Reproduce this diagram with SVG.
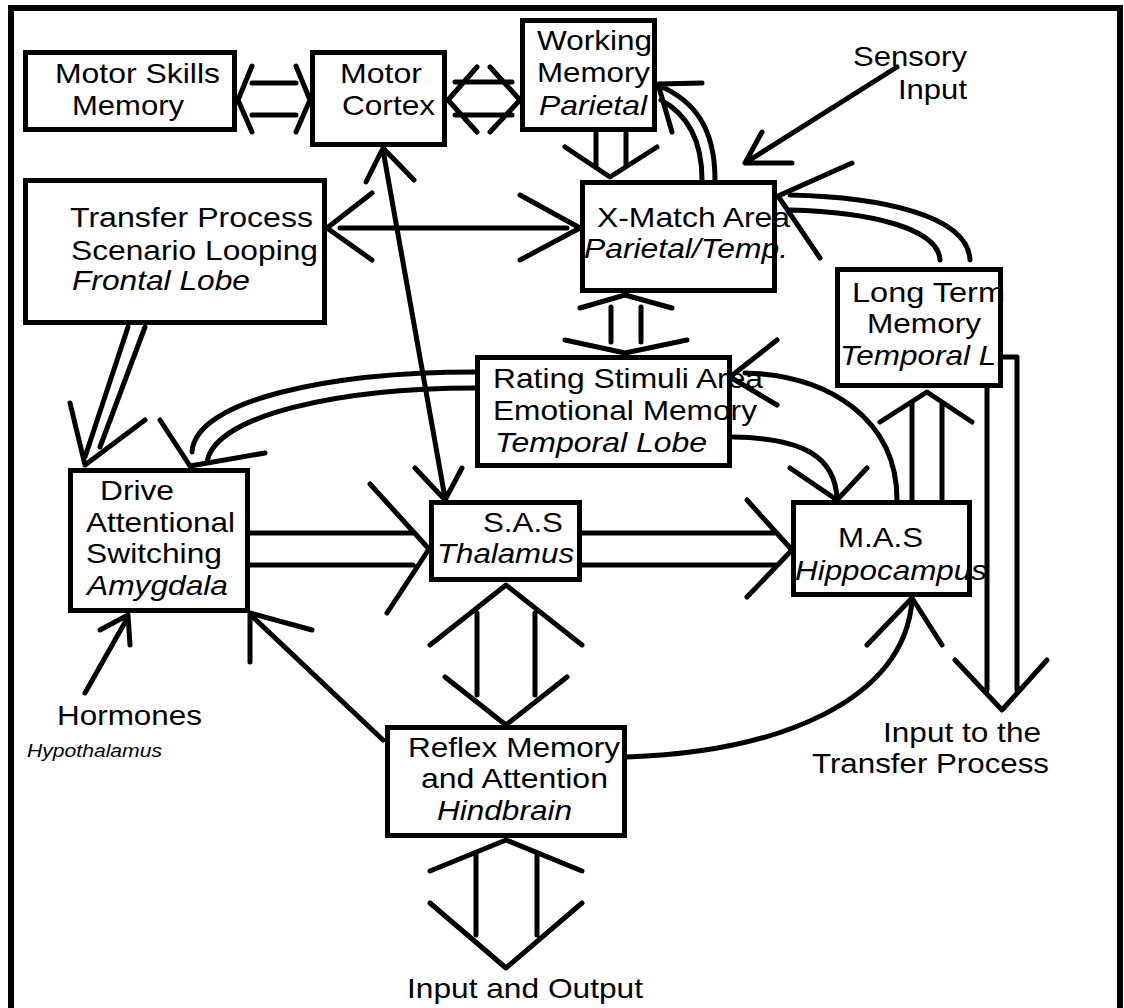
<svg xmlns="http://www.w3.org/2000/svg" width="1124" height="1008" viewBox="0 0 1124 1008">
<style>
.box{fill:#fff;stroke:#000;stroke-width:5}
.c{fill:none;stroke:#000;stroke-width:5;stroke-linecap:round;stroke-linejoin:round}
.t{font-family:"Liberation Sans",Arial,sans-serif;font-size:28px;fill:#000}
.i{font-style:italic}
.s{font-size:18px}
</style>
<rect width="1124" height="1008" fill="#fff"/>
<g id="frame"><path d="M11,1008 V8 H1120 V1008" fill="none" stroke="#000" stroke-width="6"/></g>
<g id="nodes">
<g id="motor-skills"><rect class="box" x="25.5" y="52.5" width="209" height="77"/><text class="t" x="55" y="83" textLength="165" lengthAdjust="spacingAndGlyphs">Motor Skills</text><text class="t" x="72" y="115" textLength="112" lengthAdjust="spacingAndGlyphs">Memory</text></g>
<g id="motor-cortex"><rect class="box" x="312.5" y="52.5" width="132" height="92"/><text class="t" x="340" y="83" textLength="82" lengthAdjust="spacingAndGlyphs">Motor</text><text class="t" x="342" y="115" textLength="93" lengthAdjust="spacingAndGlyphs">Cortex</text></g>
<g id="working-memory"><rect class="box" x="522.5" y="20.5" width="132" height="109"/><text class="t" x="537" y="50" textLength="115" lengthAdjust="spacingAndGlyphs">Working</text><text class="t" x="537" y="82" textLength="113" lengthAdjust="spacingAndGlyphs">Memory</text><text class="t i" x="539" y="115" textLength="108" lengthAdjust="spacingAndGlyphs">Parietal</text></g>
<g id="x-match"><rect class="box" x="582.5" y="182.5" width="192" height="108"/><text class="t" x="597" y="227" textLength="193" lengthAdjust="spacingAndGlyphs">X-Match Area</text><text class="t i" x="584" y="258" textLength="204" lengthAdjust="spacingAndGlyphs">Parietal/Temp.</text></g>
<g id="transfer"><rect class="box" x="25.5" y="180.5" width="299" height="142"/><text class="t" x="70" y="227" textLength="243" lengthAdjust="spacingAndGlyphs">Transfer Process</text><text class="t" x="71" y="260" textLength="247" lengthAdjust="spacingAndGlyphs">Scenario Looping</text><text class="t i" x="72" y="290" textLength="178" lengthAdjust="spacingAndGlyphs">Frontal Lobe</text></g>
<g id="rating"><rect class="box" x="477.5" y="357.5" width="252" height="108"/><text class="t" x="493" y="388" textLength="270" lengthAdjust="spacingAndGlyphs">Rating Stimuli Area</text><text class="t" x="493" y="420" textLength="264" lengthAdjust="spacingAndGlyphs">Emotional Memory</text><text class="t i" x="495" y="452" textLength="212" lengthAdjust="spacingAndGlyphs">Temporal Lobe</text></g>
<g id="long-term"><rect class="box" x="837.5" y="269.5" width="163" height="116"/><text class="t" x="852" y="302" textLength="153" lengthAdjust="spacingAndGlyphs">Long Term</text><text class="t" x="867" y="333" textLength="114" lengthAdjust="spacingAndGlyphs">Memory</text><text class="t i" x="840" y="365" textLength="165" lengthAdjust="spacingAndGlyphs">Temporal L.</text></g>
<g id="drive"><rect class="box" x="70.5" y="470.5" width="177" height="140"/><text class="t" x="100" y="500" textLength="74" lengthAdjust="spacingAndGlyphs">Drive</text><text class="t" x="86" y="532" textLength="149" lengthAdjust="spacingAndGlyphs">Attentional</text><text class="t" x="86" y="563" textLength="136" lengthAdjust="spacingAndGlyphs">Switching</text><text class="t i" x="87" y="595" textLength="141" lengthAdjust="spacingAndGlyphs">Amygdala</text></g>
<g id="sas"><rect class="box" x="431.5" y="502.5" width="148" height="77"/><text class="t" x="483" y="532" textLength="80" lengthAdjust="spacingAndGlyphs">S.A.S</text><text class="t i" x="437" y="563" textLength="137" lengthAdjust="spacingAndGlyphs">Thalamus</text></g>
<g id="mas"><rect class="box" x="793.5" y="502.5" width="176" height="92"/><text class="t" x="838" y="547" textLength="85" lengthAdjust="spacingAndGlyphs">M.A.S</text><text class="t i" x="795" y="580" textLength="192" lengthAdjust="spacingAndGlyphs">Hippocampus</text></g>
<g id="reflex"><rect class="box" x="387.5" y="727.5" width="237" height="108"/><text class="t" x="408" y="757" textLength="212" lengthAdjust="spacingAndGlyphs">Reflex Memory</text><text class="t" x="421" y="788" textLength="187" lengthAdjust="spacingAndGlyphs">and Attention</text><text class="t i" x="437" y="820" textLength="135" lengthAdjust="spacingAndGlyphs">Hindbrain</text></g>
<g id="sensory"><text class="t" x="853" y="66" textLength="114" lengthAdjust="spacingAndGlyphs">Sensory</text><text class="t" x="898" y="99" textLength="69" lengthAdjust="spacingAndGlyphs">Input</text></g>
<g id="hormones"><text class="t" x="57" y="725" textLength="145" lengthAdjust="spacingAndGlyphs">Hormones</text><text class="t i s" x="27" y="757" textLength="135" lengthAdjust="spacingAndGlyphs">Hypothalamus</text></g>
<g id="input-transfer"><text class="t" x="883" y="742" textLength="158" lengthAdjust="spacingAndGlyphs">Input to the</text><text class="t" x="812" y="773" textLength="237" lengthAdjust="spacingAndGlyphs">Transfer Process</text></g>
<g id="input-output"><text class="t" x="407" y="998" textLength="236" lengthAdjust="spacingAndGlyphs">Input and Output</text></g>
</g>
<g id="connectors">
<path class="c" d="M252,83 H296 M252,115 H296 M252,66 L238,100 L252,132 M296,66 L310,100 L296,132"/>
<path class="c" d="M455,82 H512 M455,115 H512 M477,67 L448,100 L477,132 M490,67 L520,100 L490,132"/>
<path class="c" d="M596,133 V165 M626,133 V165 M565,147 L610,177 L657,147"/>
<path class="c" d="M715,180 C715,125 692,100 660,86 M702,180 C702,137 685,113 661,100 M702,83 L658,84 L672,132"/>
<path class="c" d="M897,67 L745,163 M762,132 L745,163 L792,163"/>
<path class="c" d="M970,260 C968,215 880,197 790,195 M940,260 C938,228 870,212 790,210 M852,163 L778,196 L820,258"/>
<path class="c" d="M340,228 H567 M372,193 L327,228 L372,260 M520,195 L580,228 L520,260"/>
<path class="c" d="M611,307 V342 M641,307 V342 M580,308 L625,295 L672,308 M565,340 L625,353 L687,340"/>
<path class="c" d="M383,150 L445,498 M366,182 L383,148 L414,180 M415,468 L445,500 L462,468"/>
<path class="c" d="M128,327 L85,457 M145,327 L100,447 M70,403 L85,465 L145,420"/>
<path class="c" d="M475,372 C330,372 195,400 192,452 M475,388 C340,388 215,415 207,462 M160,420 L190,466 L265,453"/>
<path class="c" d="M250,533 H413 M250,565 H413 M370,484 L429,549 L387,613"/>
<path class="c" d="M582,533 H777 M582,565 H777 M747,500 L792,550 L747,597"/>
<path class="c" d="M477,613 V695 M535,613 V695 M430,645 L506,585 L582,645 M445,677 L506,725 L567,677"/>
<path class="c" d="M476,853 V935 M537,853 V935 M430,871 L506,840 L582,871 M430,903 L506,968 L582,903"/>
<path class="c" d="M383,740 L253,617 M312,630 L250,613 L250,662"/>
<path class="c" d="M85,693 L128,617 M100,630 L128,615 L130,645"/>
<path class="c" d="M627,757 C780,752 905,700 912,600 M867,645 L912,598 L942,645"/>
<path class="c" d="M733,437 C800,438 836,455 837,500 M790,468 L837,500 L867,468"/>
<path class="c" d="M897,500 C897,420 830,375 745,373 M777,340 L730,377 L777,405"/>
<path class="c" d="M912,403 V500 M942,403 V500 M880,422 L927,392 L972,422"/>
<path class="c" d="M987,388 V690 M1003,357 H1017 V690 M955,660 L1002,710 L1047,660"/>
</g>
</svg>
